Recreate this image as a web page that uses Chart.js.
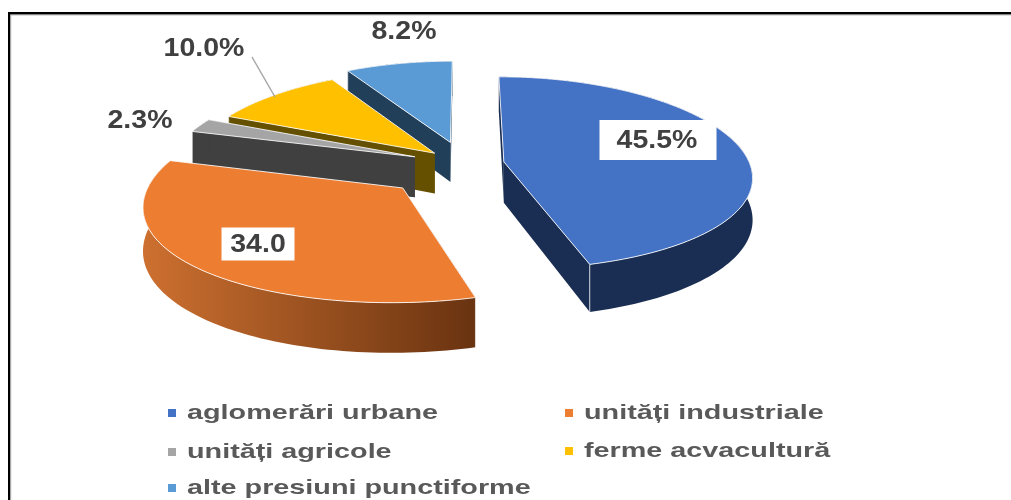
<!DOCTYPE html>
<html>
<head>
<meta charset="utf-8">
<style>html,body{margin:0;padding:0;background:#fff}#w{position:relative;width:1011px;height:500px;overflow:hidden}canvas{display:block;filter:blur(0.4px)}</style>
<script src="https://cdn.jsdelivr.net/npm/chart.js@4/dist/chart.umd.min.js"></script>
</head>
<body>
<div id="w"><canvas id="c" width="1011" height="500"></canvas></div>
<script>
const categories = ["aglomerări urbane","unități industriale","unități agricole","ferme acvacultură","alte presiuni punctiforme"];
const values = [45.5,34.0,2.3,10.0,8.2];
const valueLabels = ["45.5%","34.0","2.3%","10.0%","8.2%"];

const topColors = ["#4472c4","#ed7d31","#a5a5a5","#ffc000","#5b9bd5"];
const wallColors = ["#1a2d52",null,"#404040","#655000","#223f5a"];
const explode = [16,34.5,22,17,24];
const labelCenters = [[657,140],[258,244],[140,120],[204,48],[404,31]];
const labelBoxes = [[117,40],[73,33],null,null,null];
const legendSpots = [[168,413],[565,413],[168,452],[565,451],[168,488]];
const view = {cx:465, cy:164, rx:246, ry:95.4, kx:0.1466, ky:0.116, depth:41, sx:1.14};

function project(U,V){
  const s = 1/(1 - view.kx*V);
  return [view.cx + view.rx*U*s, view.cy + view.ry*V/(1 - view.ky*V), s];
}
function outline(arc, off){
  const mid = (arc.startAngle+arc.endAngle)/2;
  const ou = Math.cos(mid)*off, ov = Math.sin(mid)*off;
  const pts = [project(ou,ov)];
  const n = Math.max(6, Math.ceil((arc.endAngle-arc.startAngle)*40));
  for(let i=0;i<=n;i++){
    const a = arc.startAngle + (arc.endAngle-arc.startAngle)*i/n;
    pts.push(project(ou+Math.cos(a),ov+Math.sin(a)));
  }
  return pts;
}
function poly(ctx,list){
  ctx.beginPath();
  list.forEach((p,j)=>j?ctx.lineTo(p[0],p[1]):ctx.moveTo(p[0],p[1]));
  ctx.closePath();
}
const pie3d = {
  id:'pie3d',
  beforeDatasetsDraw(chart){
    const ctx = chart.ctx;
    const arcs = chart.getDatasetMeta(0).data;
    const order = arcs.map((a,i)=>i).sort((p,q)=>{
      const m=x=>Math.sin((arcs[x].startAngle+arcs[x].endAngle)/2);
      return m(p)-m(q);
    });
    ctx.save();
    ctx.lineJoin='round';
    for(const i of order){
      const arc = arcs[i];
      const pts = outline(arc, explode[i]/100);
      const bottom = p=>[p[0],p[1]+view.depth*p[2]];
      let wall = wallColors[i];
      if(!wall){
        const xs = pts.map(p=>p[0]);
        const g = ctx.createLinearGradient(Math.min(...xs),0,Math.max(...xs),0);
        g.addColorStop(0,"#cd7030");g.addColorStop(1,"#693310");
        wall = g;
      }
      ctx.fillStyle = wall;
      const apex = pts[0], rim = pts.slice(1);
      const startP = rim[0], endP = rim[rim.length-1];
      // radial cut walls
      poly(ctx,[apex,startP,bottom(startP),bottom(apex)]);ctx.fill();
      poly(ctx,[apex,endP,bottom(endP),bottom(apex)]);ctx.fill();
      // outer curved wall
      poly(ctx,rim.concat(rim.slice().reverse().map(bottom)));ctx.fill();
      // vertical highlight at the front corner
      const corner = (endP[1]>startP[1])?endP:startP;
      ctx.strokeStyle='rgba(255,255,255,0.75)';ctx.lineWidth=1;
      ctx.beginPath();ctx.moveTo(corner[0],corner[1]);const cb=bottom(corner);ctx.lineTo(cb[0],cb[1]);ctx.stroke();
      // top face
      poly(ctx,pts);
      ctx.fillStyle=arc.options.backgroundColor;ctx.fill();
      ctx.strokeStyle='rgba(255,255,255,0.85)';ctx.lineWidth=1;ctx.stroke();
    }
    ctx.restore();
    return false;
  },
  afterDraw(chart){
    const ctx = chart.ctx;
    ctx.save();
    // frame
    ctx.fillStyle='#000';
    ctx.fillRect(8,12,1003,2.6);
    ctx.fillRect(8,12,2.4,488);
    ctx.fillStyle='#b0b0b0';
    ctx.fillRect(10.4,14.6,1001,0.8);
    ctx.fillRect(10.4,14.6,0.8,486);
    // leader line
    ctx.strokeStyle='#a6a6a6';ctx.lineWidth=1.5;
    ctx.beginPath();ctx.moveTo(252,57);ctx.lineTo(275,97);ctx.stroke();
    // value labels
    ctx.textAlign='center';ctx.textBaseline='middle';
    valueLabels.forEach((t,i)=>{
      const [x,y]=labelCenters[i];
      const box=labelBoxes[i];
      if(box){ctx.fillStyle='#fff';ctx.fillRect(x-box[0]/2+(i===0?1:0),y-box[1]/2,box[0],box[1]);}
      ctx.save();ctx.translate(x,y+1);ctx.scale(view.sx,1);
      ctx.fillStyle='#404040';ctx.font='bold 25px "Liberation Sans"';
      ctx.fillText(t,0,0);ctx.restore();
    });
    // legend
    ctx.textAlign='left';
    categories.forEach((t,i)=>{
      const [x,y]=legendSpots[i];
      ctx.fillStyle=topColors[i];ctx.fillRect(x,y-4,8,8);
      ctx.save();ctx.translate(x+19,y);ctx.scale(1.37,1);
      ctx.fillStyle='#595959';ctx.font='bold 21px "Liberation Sans"';
      ctx.fillText(t,0,0);ctx.restore();
    });
    ctx.restore();
  }
};
new Chart(document.getElementById('c'),{
  type:'pie',
  data:{labels:categories,datasets:[{data:values,backgroundColor:topColors,offset:explode,borderWidth:0}]},
  options:{responsive:false,animation:false,rotation:0,
    plugins:{legend:{display:false},tooltip:{enabled:false}}},
  plugins:[pie3d]
});
</script>
</body>
</html>
